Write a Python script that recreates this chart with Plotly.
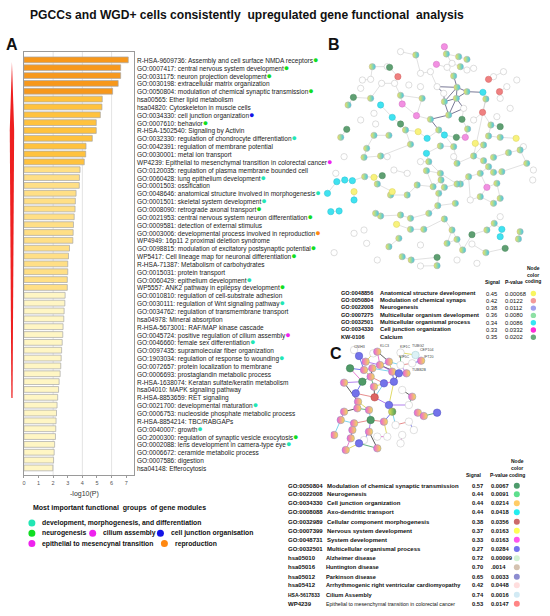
import plotly.graph_objects as go

W, H = 550, 616
FONT = "Liberation Sans, Arial, sans-serif"

# ---------------- Panel A data ----------------
term_labels = [
    "R-HSA-9609736: Assembly and cell surface NMDA receptors",
    "GO:0007417: central nervous system development",
    "GO:0031175: neuron projection development",
    "GO:0030198: extracellular matrix organization",
    "GO:0050804: modulation of chemical synaptic transmission",
    "hsa00565: Ether lipid metabolism",
    "hsa04820: Cytoskeleton in muscle cells",
    "GO:0034330: cell junction organization",
    "GO:0007610: behavior",
    "R-HSA-1502540: Signaling by Activin",
    "GO:0032330: regulation of chondrocyte differentiation",
    "GO:0042391: regulation of membrane potential",
    "GO:0030001: metal ion transport",
    "WP4239: Epithelial to mesenchymal transition in colorectal cancer",
    "GO:0120035: regulation of plasma membrane bounded cell",
    "GO:0060428: lung epithelium development",
    "GO:0001503: ossification",
    "GO:0048646: anatomical structure involved in morphogenesis",
    "GO:0001501: skeletal system development",
    "GO:0008090: retrograde axonal transport",
    "GO:0021953: central nervous system neuron differentiation",
    "GO:0009581: detection of external stimulus",
    "GO:0003006: developmental process involved in reproduction",
    "WP4949: 16p11 2 proximal deletion syndrome",
    "GO:0098815: modulation of excitatory postsynaptic potential",
    "WP5417: Cell lineage map for neuronal differentiation",
    "R-HSA-71387: Metabolism of carbohydrates",
    "GO:0015031: protein transport",
    "GO:0060429: epithelium development",
    "WP5557: ANK2 pathway in epilepsy development",
    "GO:0010810: regulation of cell-substrate adhesion",
    "GO:0030111: regulation of Wnt signaling pathway",
    "GO:0034762: regulation of transmembrane transport",
    "hsa04978: Mineral absorption",
    "R-HSA-5673001: RAF/MAP kinase cascade",
    "GO:0045724: positive regulation of cilium assembly",
    "GO:0046660: female sex differentiation",
    "GO:0097435: supramolecular fiber organization",
    "GO:1903034: regulation of response to wounding",
    "GO:0072657: protein localization to membrane",
    "GO:0006693: prostaglandin metabolic process",
    "R-HSA-1638074: Keratan sulfate/keratin metabolism",
    "hsa04010: MAPK signaling pathway",
    "R-HSA-8853659: RET signaling",
    "GO:0021700: developmental maturation",
    "GO:0006753: nucleoside phosphate metabolic process",
    "R-HSA-8854214: TBC/RABGAPs",
    "GO:0040007: growth",
    "GO:2000300: regulation of synaptic vesicle exocytosis",
    "GO:0002088: lens development in camera-type eye",
    "GO:0006672: ceramide metabolic process",
    "GO:0007586: digestion",
    "hsa04148: Efferocytosis",
]
neg_log_p = [
    7.14, 6.62, 6.62, 6.45, 6.07, 5.36, 5.34, 5.23, 4.95, 4.95,
    4.68, 4.25, 4.23, 4.13, 3.84, 3.80, 3.79, 3.57, 3.52, 3.50,
    3.44, 3.39, 3.37, 3.35, 3.12, 3.05, 3.00, 3.00, 2.97, 2.97,
    2.82, 2.80, 2.75, 2.73, 2.68, 2.66, 2.62, 2.58, 2.55, 2.52,
    2.48, 2.41, 2.37, 2.31, 2.27, 2.23, 2.20, 2.18, 2.16, 2.10,
    2.07, 2.03, 1.98,
]
# functional group of each term ("" = none)
term_group = [
    "neuro", "neuro", "neuro", "", "neuro", "", "", "junction", "neuro", "",
    "dev", "", "", "emt", "", "dev", "", "dev", "dev", "neuro",
    "neuro", "", "repro", "", "neuro", "neuro", "", "", "dev", "neuro",
    "", "dev", "", "", "", "cilium", "dev", "", "dev", "",
    "", "", "", "", "dev", "", "", "dev", "neuro", "dev",
    "", "", "",
]
# colour tier of each bar (1 = most significant)
bar_tier = [1] * 5 + [2] * 9 + [3] * 16 + [4] * 23

group_colors = {"dev": "#22e6b4", "neuro": "#11dd22", "cilium": "#ee22ee",
                "junction": "#1414e6", "emt": "#ee22ee", "repro": "#ff8811"}
tier_colors = {1: "#f7981c", 2: "#ffc23e", 3: "#ffdf86", 4: "#fff6c4"}

legend_title = "Most important functional  groups  of gene modules"
legend_items = [  # (group, text, row, x of dot in px)
    ("dev", "development, morphogenesis, and differentiation", 0, 30),
    ("neuro", "neurogenesis", 1, 30),
    ("cilium", "cilium assembly", 1, 91),
    ("junction", "cell junction organisation", 1, 159),
    ("emt", "epithelial to mesencynal transition", 2, 30),
    ("repro", "reproduction", 2, 163),
]

# ---------------- Panel B table ----------------
b_ids = ["GO:0048856", "GO:0050804", "GO:0022008", "GO:0007275", "GO:0032501", "GO:0034330", "KW-0106"]
b_desc = ["Anatomical structure development", "Modulation of chemical synaps", "Neurogenesis",
          "Multicellular organism development", "Multicellular organismal process",
          "Cell junction organization", "Calcium"]
b_signal = ["0.45", "0.42", "0.38", "0.36", "0.34", "0.33", "0.35"]
b_pval = ["0.00068", "0.0122", "0.0112", "0.0080", "0.0086", "0.0332", "0.0202"]
b_colors = ["#f8f560", "#f39a9a", "#a0a0ee", "#8ee0a4", "#36e4f2", "#ff2ad6", "#6aaa7c"]

# ---------------- Panel C table ----------------
c_ids = ["GO:0050804", "GO:0022008", "GO:0034330", "GO:0008088", "GO:0032989", "GO:0007399",
         "GO:0048731", "GO:0032501", "hsa05010", "hsa05016", "hsa05012", "hsa05412",
         "HSA-5617833", "WP4239"]
c_desc = ["Modulation of chemical synaptic transmission", "Neurogenesis", "Cell junction organization",
          "Axo-dendritic transport", "Cellular component morphogenesis", "Nervous system development",
          "System development", "Multicellular organismal process", "Alzheimer disease",
          "Huntington disease", "Parkinson disease", "Arrhythmogenic right ventricular cardiomyopathy",
          "Cilium Assembly", "Epithelial to mesenchymal transition in colorectal cancer"]
c_signal = ["0.57", "0.44", "0.44", "0.44", "0.38", "0.37", "0.33", "0.27",
            "0.72", "0.70", "0.65", "0.42", "0.74", "0.53"]
c_pval = ["0.0067", "0.0091", "0.0214", "0.0418", "0.0356", "0.0163", "0.0163", "0.0284",
          "0.00099", ".0014", "0.0033", "0.0448", "0.0016", "0.0147"]
c_colors = ["#4d9b6b", "#5ddf8c", "#ffcc66", "#22eef0", "#cc6a6a", "#ffff55", "#ff55ee", "#7373ee",
            "#d2f2d4", "#d4c2b0", "#8c8cd0", "#ffdede", "#d2eaf4", "#ff8484"]

# ---------------- Network B (node position in zoomed px, type) ----------------
b_nodes = [
    (372,50,"p"),(378,72,"m"),(415,80,"m"),(440,88,"m"),(395,100,"w"),(348,103,"p"),(380,112,"w"),
    (420,110,"m"),(400,138,"m"),(440,120,"w"),(460,115,"w"),(330,125,"w"),(300,130,"w"),(286,75,"m"),
    (240,65,"w"),(232,140,"r"),(200,110,"w"),(155,110,"m"),(207,112,"g"),(150,148,"w"),(125,150,"w"),
    (98,202,"g"),(150,205,"m"),(82,225,"m"),(183,160,"w"),(222,160,"w"),(240,196,"m"),(305,205,"m"),
    (245,222,"p"),(180,225,"c"),(215,262,"c"),(240,282,"g"),(288,257,"p"),(330,268,"m"),(385,255,"m"),
    (372,215,"m"),(408,205,"m"),(410,172,"m"),(440,185,"m"),(370,190,"w"),(350,170,"w"),(505,148,"r"),
    (538,185,"r"),(488,187,"c"),(497,207,"m"),(487,247,"r"),(520,140,"w"),(550,125,"w"),(560,170,"w"),
    (430,235,"w"),(425,268,"g"),(442,297,"m"),(408,322,"g"),(435,322,"p"),(372,315,"c"),(355,300,"m"),
    (320,325,"c"),(293,305,"y"),(255,300,"m"),(205,316,"m"),(160,316,"m"),(78,298,"g"),(60,322,"m"),
    (512,285,"m"),(540,290,"g"),(505,318,"m"),(540,322,"m"),(588,325,"y"),(465,340,"y"),(490,345,"m"),
    (400,350,"m"),(360,348,"m"),(270,343,"m"),(138,355,"m"),(130,382,"m"),(180,378,"m"),(318,370,"c"),
    (325,395,"m"),(410,400,"m"),(460,378,"m"),(490,392,"m"),(520,382,"m"),(565,368,"m"),(600,360,"m"),
    (620,400,"m"),(545,425,"m"),(520,427,"m"),(505,410,"m"),(480,430,"m"),(445,440,"m"),(420,462,"m"),
    (360,430,"m"),(362,450,"m"),(338,470,"m"),(318,422,"m"),(185,437,"g"),(160,442,"y"),(132,440,"m"),
    (95,452,"c"),(72,450,"c"),(48,455,"c"),(20,490,"c"),(100,485,"y"),(100,510,"c"),(55,543,"c"),
    (30,545,"c"),(170,462,"m"),(215,485,"y"),(260,495,"m"),(210,495,"m"),(290,465,"m"),(355,490,"m"),
    (372,472,"m"),(410,462,"m"),(500,472,"p"),(530,460,"m"),(540,505,"m"),(520,520,"m"),(480,500,"m"),
    (450,510,"w"),(405,520,"m"),(352,527,"m"),(325,550,"m"),(270,565,"m"),(240,555,"m"),(180,558,"m"),
    (165,550,"m"),(228,583,"y"),(270,598,"m"),(310,598,"m"),(372,567,"m"),(395,600,"m"),(410,628,"m"),
    (427,660,"m"),(455,614,"g"),(500,600,"m"),(522,580,"m"),(545,598,"c"),(540,620,"c"),(600,605,"m"),
    (595,627,"m"),(555,655,"g"),(497,668,"m"),(455,642,"w"),(350,682,"g"),(350,707,"m"),(300,708,"w"),
    (245,680,"m"),(272,690,"m"),(235,625,"m"),(205,650,"m"),(138,640,"w"),(170,690,"w"),(380,640,"m"),
    (410,690,"w"),(470,700,"w"),(40,668,"w"),(100,610,"w"),(130,600,"w"),(300,645,"w"),(540,560,"w"),
    (638,450,"w"),(640,420,"w"),(610,350,"w"),(570,235,"w"),(530,260,"w"),(70,380,"w"),(45,430,"w"),
    (260,430,"w"),(220,420,"w"),(300,395,"w"),(400,380,"w"),(200,380,"w"),(160,250,"w"),(120,270,"w"),
    (165,282,"w"),(120,175,"w"),(300,170,"w"),(265,165,"w"),(460,270,"w"),(540,205,"w"),(590,150,"w"),
]
b_edges_dark = [(35,36),(35,37),(36,37),(37,38),(36,38),(35,39),(39,40),(37,40),(36,34),(35,34),
                (34,33),(34,49),(36,49),(38,43),(37,8),(33,55)]
b_edges = [(40,11),(8,6),(6,4),(4,1),(1,0),(1,2),(2,3),(4,7),(7,9),(5,6),(11,12),(12,13),(13,14),
           (26,27),(27,32),(28,26),(28,32),(32,33),(55,54),(54,52),(52,53),(53,51),(51,50),(50,49),
           (15,18),(18,16),(16,17),(24,25),(25,26),(22,24),(22,21),(21,23),(29,30),(30,31),(31,58),
           (58,57),(57,56),(56,55),(59,60),(60,73),(73,74),(74,75),(75,72),(72,58),(76,77),(77,91),
           (91,94),(94,93),(93,92),(92,112),(112,113),(113,90),(90,89),(89,88),(88,87),(87,80),(80,79),
           (79,78),(78,70),(70,71),(71,76),(68,69),(69,79),(63,64),(63,65),(65,66),(66,67),(81,82),
           (82,83),(83,84),(85,86),(86,87),(85,84),(114,115),(114,118),(118,119),(115,116),(116,117),
           (117,118),(120,121),(121,122),(122,123),(123,124),(124,125),(125,126),(127,128),(128,129),
           (129,130),(130,131),(131,132),(132,133),(133,134),(134,135),(135,136),(136,137),(137,138),
           (139,140),(141,142),(142,143),(144,145),(145,146),(147,148),(148,144),(149,150),(106,107),
           (107,109),(109,108),(108,110),(110,93),(111,112),(111,121),(95,96),(96,97),(97,98),(98,99),
           (99,100),(102,103),(104,105),(41,46),(46,47),(42,48),(43,44),(44,45),(45,63),(45,179),
           (61,62),(20,19),(19,17),(153,131),(153,132),(170,77),(171,78),(168,169),(172,75),(100,101),
           (114,88),(89,119),(91,113),(44,79),(54,70)]

# ---------------- Network C ----------------
c_nodes = [
    (70,30,"w"),(85,48,"b"),(105,65,"m"),(128,40,"w"),(140,35,"m"),(210,38,"w"),(255,45,"lb"),
    (272,62,"m"),(245,70,"w"),(210,75,"w"),(175,65,"m"),(148,75,"m"),(125,85,"m"),(100,90,"m"),
    (58,85,"g"),(185,95,"m"),(205,100,"b"),(228,100,"m"),(190,125,"b"),(160,130,"b"),(120,110,"m"),
    (95,125,"g"),(40,128,"m"),(130,140,"m"),(75,160,"b"),(215,150,"w"),(245,170,"m"),(132,172,"r"),
    (175,195,"b"),(82,185,"m"),(235,195,"w"),(185,215,"ym"),(115,210,"m"),(40,215,"m"),(80,205,"m"),
    (30,240,"m"),(70,250,"m"),(120,240,"g"),(160,245,"m"),(262,218,"m"),(280,228,"m"),(320,218,"b"),
    (10,285,"m"),(65,270,"m"),(115,275,"m"),(60,295,"m"),(85,310,"b"),(140,325,"m"),(45,330,"m"),
    (195,255,"w"),(235,245,"w"),(215,285,"w"),(250,270,"w"),(210,310,"w"),(100,300,"w"),(170,290,"w"),
    (140,290,"w"),
]
c_edges = [(0,1),(1,2),(2,3),(3,4),(4,10),(10,11),(11,12),(12,13),(13,14),(14,21),(13,20),(20,21),
           (12,20),(11,15),(15,16),(16,17),(15,18),(18,19),(19,23),(23,20),(16,18),(17,9),(10,9),(9,8),
           (8,7),(7,6),(6,5),(5,9),(23,27),(27,28),(27,19),(27,24),(24,21),(24,29),(29,32),(32,34),
           (34,33),(33,35),(35,36),(36,43),(43,45),(45,48),(48,46),(46,47),(47,44),(44,37),(37,32),
           (37,38),(38,31),(31,28),(28,18),(26,30),(25,26),(28,30),(31,49),(49,50),(50,52),(51,53),
           (39,40),(40,41),(29,22),(22,21),(42,35),(36,37),(44,54),(55,56),(38,55),(15,17),(11,16),
           (2,11),(12,15),(20,19),(1,13),(4,11),(10,15)]
c_node_labels = [("CNIH3",85,20),("KLC3",162,18),("KIF1C",226,22),("TUBG2",262,18),("CEP104",288,30),
                 ("IFT20",295,50),("KIF5C",222,52),("TUBB2B",268,90)]

# ---------------- helpers ----------------
def px(x):
    return x / W

def py(y):
    return 1 - y / H

fig = go.Figure()

# Panel A bars
fig.add_trace(go.Bar(
    x=neg_log_p, y=list(range(len(neg_log_p))), orientation="h",
    marker=dict(color=[tier_colors[t] for t in bar_tier], line=dict(color="#a8a8a8", width=0.7)),
    width=0.74, xaxis="x", yaxis="y", showlegend=False, hoverinfo="skip"))

# Network B
BSTY = {"w": ("#ffffff", None, "#bdbdbd"), "m": ("#f4e65a", "#3ec8ee", "#b0b0b0"),
        "p": ("#f290e2", None, "#d070c0"), "r": ("#ef8080", None, "#d06060"),
        "g": ("#5f9f72", None, "#4a8a5e"), "c": ("#3fe2f0", None, "#30c0d0"),
        "y": ("#f8f27c", None, "#d8d060")}

def edge_xy(nodes, edges):
    xs, ys = [], []
    for a, b in edges:
        xs += [nodes[a][0], nodes[b][0], None]
        ys += [nodes[a][1], nodes[b][1], None]
    return xs, ys

ex, ey = edge_xy(b_nodes, b_edges)
fig.add_trace(go.Scatter(x=ex, y=ey, mode="lines", line=dict(color="#cdcdcd", width=0.6),
                         xaxis="x2", yaxis="y2", showlegend=False, hoverinfo="skip"))
ex, ey = edge_xy(b_nodes, b_edges_dark)
fig.add_trace(go.Scatter(x=ex, y=ey, mode="lines", line=dict(color="#6a6a8a", width=0.9),
                         xaxis="x2", yaxis="y2", showlegend=False, hoverinfo="skip"))
for t, (col, grad, lc) in BSTY.items():
    pts = [n for n in b_nodes if n[2] == t]
    mk = dict(size=6.3, color=col, line=dict(color=lc, width=0.5))
    if grad:
        mk["gradient"] = dict(type="horizontal", color=grad)
    fig.add_trace(go.Scatter(x=[p[0] for p in pts], y=[p[1] for p in pts], mode="markers",
                             marker=mk, xaxis="x2", yaxis="y2", showlegend=False, hoverinfo="skip"))

# Network C
edge_palette = ["#5050e8", "#e060c8", "#d8d040", "#40a060", "#333333", "#a060e8", "#60c8e8", "#e07070"]
for k in range(len(edge_palette)):
    sub = [e for i, e in enumerate(c_edges) if i % len(edge_palette) == k]
    ex, ey = edge_xy(c_nodes, sub)
    fig.add_trace(go.Scatter(x=ex, y=ey, mode="lines", line=dict(color=edge_palette[k], width=0.8),
                             xaxis="x3", yaxis="y3", showlegend=False, hoverinfo="skip"))
CSTY = {"w": ("#ffffff", None, "#c0c0c0"), "m": ("#ee60dc", "#f2e050", "#9090c0"),
        "g": ("#4f9a67", None, "#3a7a50"), "b": ("#7373ea", None, "#5050c0"),
        "r": ("#dd6464", None, "#b04848"), "lb": ("#dcf2f6", None, "#a0c8d0"),
        "ym": ("#e8e050", "#44a060", "#909060")}
for t, (col, grad, lc) in CSTY.items():
    pts = [n for n in c_nodes if n[2] == t]
    mk = dict(size=7.5, color=col, line=dict(color=lc, width=0.5))
    if grad:
        mk["gradient"] = dict(type="horizontal", color=grad)
    fig.add_trace(go.Scatter(x=[p[0] for p in pts], y=[p[1] for p in pts], mode="markers",
                             marker=mk, xaxis="x3", yaxis="y3", showlegend=False, hoverinfo="skip"))

ann = []
shapes = []

def text(x, y, s, size, bold=False, anchor="left", color="#111", family=FONT):
    ann.append(dict(x=px(x), y=py(y), xref="paper", yref="paper", text=("<b>%s</b>" % s) if bold else s,
                    showarrow=False, xanchor=anchor, yanchor="middle",
                    font=dict(size=size, color=color, family=family)))

def dot(cx, cy, r, color):
    shapes.append(dict(type="circle", xref="paper", yref="paper", x0=px(cx - r), x1=px(cx + r),
                       y0=py(cy + r), y1=py(cy - r), fillcolor=color, line=dict(width=0)))

# Title and panel letters
text(245.5, 15, "PGCCs and WGD+ cells consistently  upregulated gene functional  analysis", 12.1, True, "center")
text(10, 45, "A", 16, True, "center")
text(333, 45, "B", 16, True, "center")
text(335, 353, "C", 16, True, "center")

# Term labels with group dots (same line height for all rows)
for i, (lab, g) in enumerate(zip(term_labels, term_group)):
    col = group_colors[g] if g else "rgba(0,0,0,0)"
    s = lab + "<span style='color:%s;font-size:9px'>●</span>" % col
    ann.append(dict(x=px(133.5), y=i, xref="paper", yref="y", text=s, showarrow=False,
                    xanchor="left", yanchor="middle", font=dict(size=6.5, color="#222", family=FONT)))

# x-axis title
text(83, 494, "-log10(P)", 7, False, "center", "#333")

# Legend
text(29, 508, legend_title, 7.0, True)
for g, lab, row, x0 in legend_items:
    yy = 523 + row * 10.3
    dot(x0, yy, 3.5, group_colors[g])
    text(x0 + 8.5, yy, lab, 6.8, True)

# Gridlines panel A
for v in [2, 4, 6]:
    shapes.append(dict(type="line", xref="x", yref="y domain", x0=v, x1=v, y0=0, y1=1,
                       line=dict(color="#dcdcdc", width=0.8), layer="below"))

# Red arrow
path = "M %f,%f L %f,%f L %f,%f L %f,%f L %f,%f L %f,%f Z" % (
    px(10), py(62), px(12.2), py(130), px(10.6), py(398), px(9.4), py(398), px(7.8), py(130), px(10), py(62))
shapes.append(dict(type="path", xref="paper", yref="paper", path=path, fillcolor="#ee2020",
                   line=dict(width=0)))

# Table B
text(493, 281.7, "Signal", 5, True, "center")
text(514, 281.7, "P-value", 5, True, "center")
for k, w in enumerate(["Node", "color", "coding"]):
    text(533, 268.3 + k * 6.3, w, 5, True, "center")
for k in range(len(b_ids)):
    yy = 292.7 + k * 7.3
    text(338, yy, b_ids[k], 5.6, True)
    text(377, yy, b_desc[k], 5.8, True)
    text(484, yy + 0.8, b_signal[k], 5.8, False)
    text(503, yy + 0.8, b_pval[k], 5.8, False)
    dot(533.3, yy + 0.8, 2.7, b_colors[k])

# Table C
text(474, 475, "Signal", 5, True, "center")
text(499, 475, "P-value", 5, True, "center")
for k, w in enumerate(["Node", "color", "coding"]):
    text(517, 460.7 + k * 7.2, w, 5, True, "center")
c_rows_y = [485.7, 494.3, 503.3, 512.3, 521.7, 530.7, 539.7, 549, 558.3, 567.3, 576.7, 585.3, 594.7, 603.7]
for k in range(len(c_ids)):
    yy = c_rows_y[k]
    cid = c_ids[k]
    text(285, yy, cid, 5.0 if cid.startswith("HSA") else 6.0, True)
    if cid.startswith("WP"):
        text(323, yy, c_desc[k], 5.2, False)
    elif cid.startswith("GO"):
        text(324, yy, c_desc[k], 6.0, True)
    else:
        text(323, yy, c_desc[k], 5.7, True)
    text(469.3, yy, c_signal[k], 5.8, True)
    text(489, yy, c_pval[k], 5.8, True)
    dot(516.7, yy, 3, c_colors[k])

# Node labels C
for name, x, y in c_node_labels:
    ann.append(dict(x=x, y=y, xref="x3", yref="y3", text=name, showarrow=False,
                    font=dict(size=3.6, color="#444", family=FONT)))

fig.update_layout(
    width=W, height=H, margin=dict(l=0, r=0, t=0, b=0),
    paper_bgcolor="white", plot_bgcolor="white", showlegend=False,
    font=dict(family=FONT),
    xaxis=dict(domain=[px(22), px(132)], range=[0, 7.5], dtick=1, tick0=0, showgrid=False, zeroline=False,
               showline=True, mirror=True, linecolor="#9a9a9a", linewidth=1, ticks="outside", ticklen=2,
               tickcolor="#9a9a9a", tickfont=dict(size=5.5, color="#555"), anchor="y"),
    yaxis=dict(domain=[py(475), py(52)], range=[52.9, -1.0], showticklabels=False, showgrid=False,
               zeroline=False, showline=True, mirror=True, linecolor="#9a9a9a", linewidth=1, anchor="x"),
    xaxis2=dict(domain=[px(320), 1], range=[0, 690], visible=False, anchor="y2"),
    yaxis2=dict(domain=[py(290), py(30)], range=[780, 0], visible=False, anchor="x2"),
    xaxis3=dict(domain=[px(330), 1], range=[0, 660], visible=False, anchor="y3"),
    yaxis3=dict(domain=[py(470), py(340)], range=[390, 0], visible=False, anchor="x3"),
    annotations=ann, shapes=shapes,
)

fig.write_html("out.html", config={"displayModeBar": False},
               post_script="document.body.style.margin='0px';")
